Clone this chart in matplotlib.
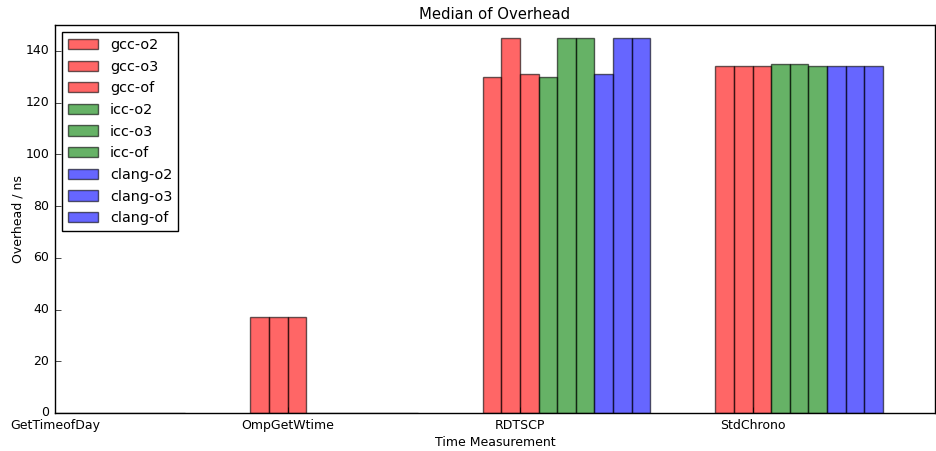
import numpy as np
import matplotlib
matplotlib.use("Agg")
import matplotlib.pyplot as plt

plt.style.use("classic")

# --- data ---
groups = ["GetTimeofDay", "OmpGetWtime", "RDTSCP", "StdChrono"]
series = ["gcc-o2", "gcc-o3", "gcc-of", "icc-o2", "icc-o3", "icc-of",
          "clang-o2", "clang-o3", "clang-of"]
colors = ["r", "r", "r", "g", "g", "g", "b", "b", "b"]

gcc_o2 = [0, 37, 130, 134]
gcc_o3 = [0, 37, 145, 134]
gcc_of = [0, 37, 131, 134]
icc_o2 = [0, 0, 130, 135]
icc_o3 = [0, 0, 145, 135]
icc_of = [0, 0, 145, 134]
clang_o2 = [0, 0, 131, 134]
clang_o3 = [0, 0, 145, 134]
clang_of = [0, 0, 145, 134]
values = [gcc_o2, gcc_o3, gcc_of, icc_o2, icc_o3, icc_of, clang_o2, clang_o3, clang_of]

x = np.arange(len(groups))
width = 0.08

fig = plt.figure(figsize=(9.36, 4.51), dpi=100, facecolor="white")
ax = fig.add_axes([0.0588, 0.0843, 0.9402, 0.8603])

for k, (name, vals) in enumerate(zip(series, values)):
    ax.bar(x - 0.16 + k * width, vals, width, align="edge",
           color=colors[k], alpha=0.6, edgecolor="black", linewidth=1, label=name)

ax.set_xlim(0, 3.785)
ax.set_ylim(0, 150)
ax.set_xticks(x)
ax.set_xticklabels(groups, fontsize=9)
ax.set_yticks(np.arange(0, 141, 20))
ax.tick_params(axis="y", labelsize=9)
ax.tick_params(top=False, right=False)
ax.set_xlabel("Time Measurement", fontsize=9, labelpad=3.5)
ax.set_ylabel("Overhead / ns", fontsize=9, labelpad=1)
ax.set_title("Median of Overhead", fontsize=10.7, pad=4)
ax.legend(loc="upper left", fontsize=10.4, labelspacing=0.53, handlelength=2.1)

fig.savefig("out.png", dpi=100, facecolor="white")
